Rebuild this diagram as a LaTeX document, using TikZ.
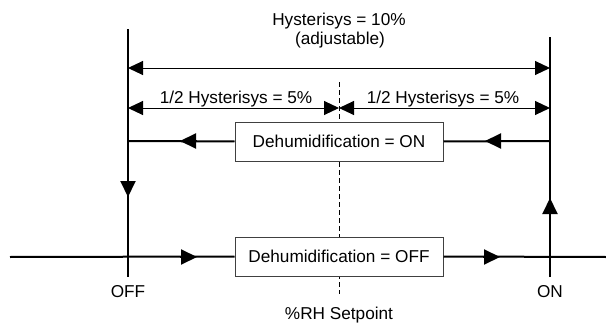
\documentclass[tikz,border=0pt]{standalone}
\usepackage{fontspec}
\setmainfont{Liberation Sans}
\usetikzlibrary{arrows.meta}
\begin{document}
\begin{tikzpicture}[x=1pt,y=-1pt,
  font=\fontsize{17.2}{19}\selectfont,
  main/.style={line width=2pt},
  tip/.style={line width=2pt,-{Triangle[length=16pt,width=15pt]}},
  dim/.style={line width=1pt,{Triangle[length=15pt,width=14pt]}-{Triangle[length=15pt,width=14pt]}},
  statebox/.style={draw=black!75,line width=1pt,fill=white,minimum width=208pt,minimum height=39pt,inner sep=0pt},
  lbl/.style={anchor=base,inner sep=0pt}]
\useasboundingbox (0,0) rectangle (606,324);
% coordinates
\coordinate (ltop) at (128,29);
\coordinate (lbot) at (128,277);
\coordinate (ldown0) at (128,180);
\coordinate (ldown) at (128,197);
\coordinate (rtop) at (550,37);
\coordinate (rbot) at (550,277);
\coordinate (rup0) at (550,215);
\coordinate (rup) at (550,198);
\coordinate (lon) at (128,141);
\coordinate (ron) at (550,141);
\coordinate (onl0) at (197,141);
\coordinate (onl) at (180,141);
\coordinate (onr0) at (502,141);
\coordinate (onr) at (485,141);
\coordinate (offstart) at (10,257);
\coordinate (offend) at (606,257);
\coordinate (offa0) at (180,257);
\coordinate (offa) at (197,257);
\coordinate (offb0) at (483,257);
\coordinate (offb) at (500,257);
\coordinate (fa) at (128,68);
\coordinate (fb) at (550,68);
\coordinate (ha) at (128,108);
\coordinate (hm) at (339,108);
\coordinate (hb) at (550,108);
\coordinate (dtop) at (339,82);
\coordinate (dbot) at (339,294);
% setpoint dashed line
\draw[line width=0.8pt,dash pattern=on 5pt off 3pt] (dtop) -- (dbot);
% vertical lines
\draw[main] (ltop) -- (lbot);
\draw[tip] (ldown0) -- (ldown);
\draw[main] (rbot) -- (rtop);
\draw[tip] (rup0) -- (rup);
% dimension arrows
\draw[dim] (fa) -- (fb);
\draw[dim] (ha) -- (hm);
\draw[dim] (hm) -- (hb);
% boxes
\node[statebox] (onbox) at (339,141.5) {Dehumidification = ON};
\node[statebox] (offbox) at (339,256.5) {Dehumidification = OFF};
% ON line
\draw[main] (ron) -- (onbox.east);
\draw[tip] (onr0) -- (onr);
\draw[main] (onbox.west) -- (lon);
\draw[tip] (onl0) -- (onl);
% OFF line
\draw[main] (offstart) -- (offbox.west);
\draw[tip] (offa0) -- (offa);
\draw[main] (offbox.east) -- (offend);
\draw[tip] (offb0) -- (offb);
% labels
\node[lbl] (hys) at (339,26) {Hysterisys = 10\%};
\node[lbl] (adj) at (340,45) {(adjustable)};
\node[lbl] (hl) at (236,103) {1/2 Hysterisys = 5\%};
\node[lbl] (hr) at (443,103) {1/2 Hysterisys = 5\%};
\node[lbl] (offl) at (128,297) {OFF};
\node[lbl] (onlb) at (550,297) {ON};
\node[lbl] (sp) at (339,319) {\%RH Setpoint};
\end{tikzpicture}
\end{document}
